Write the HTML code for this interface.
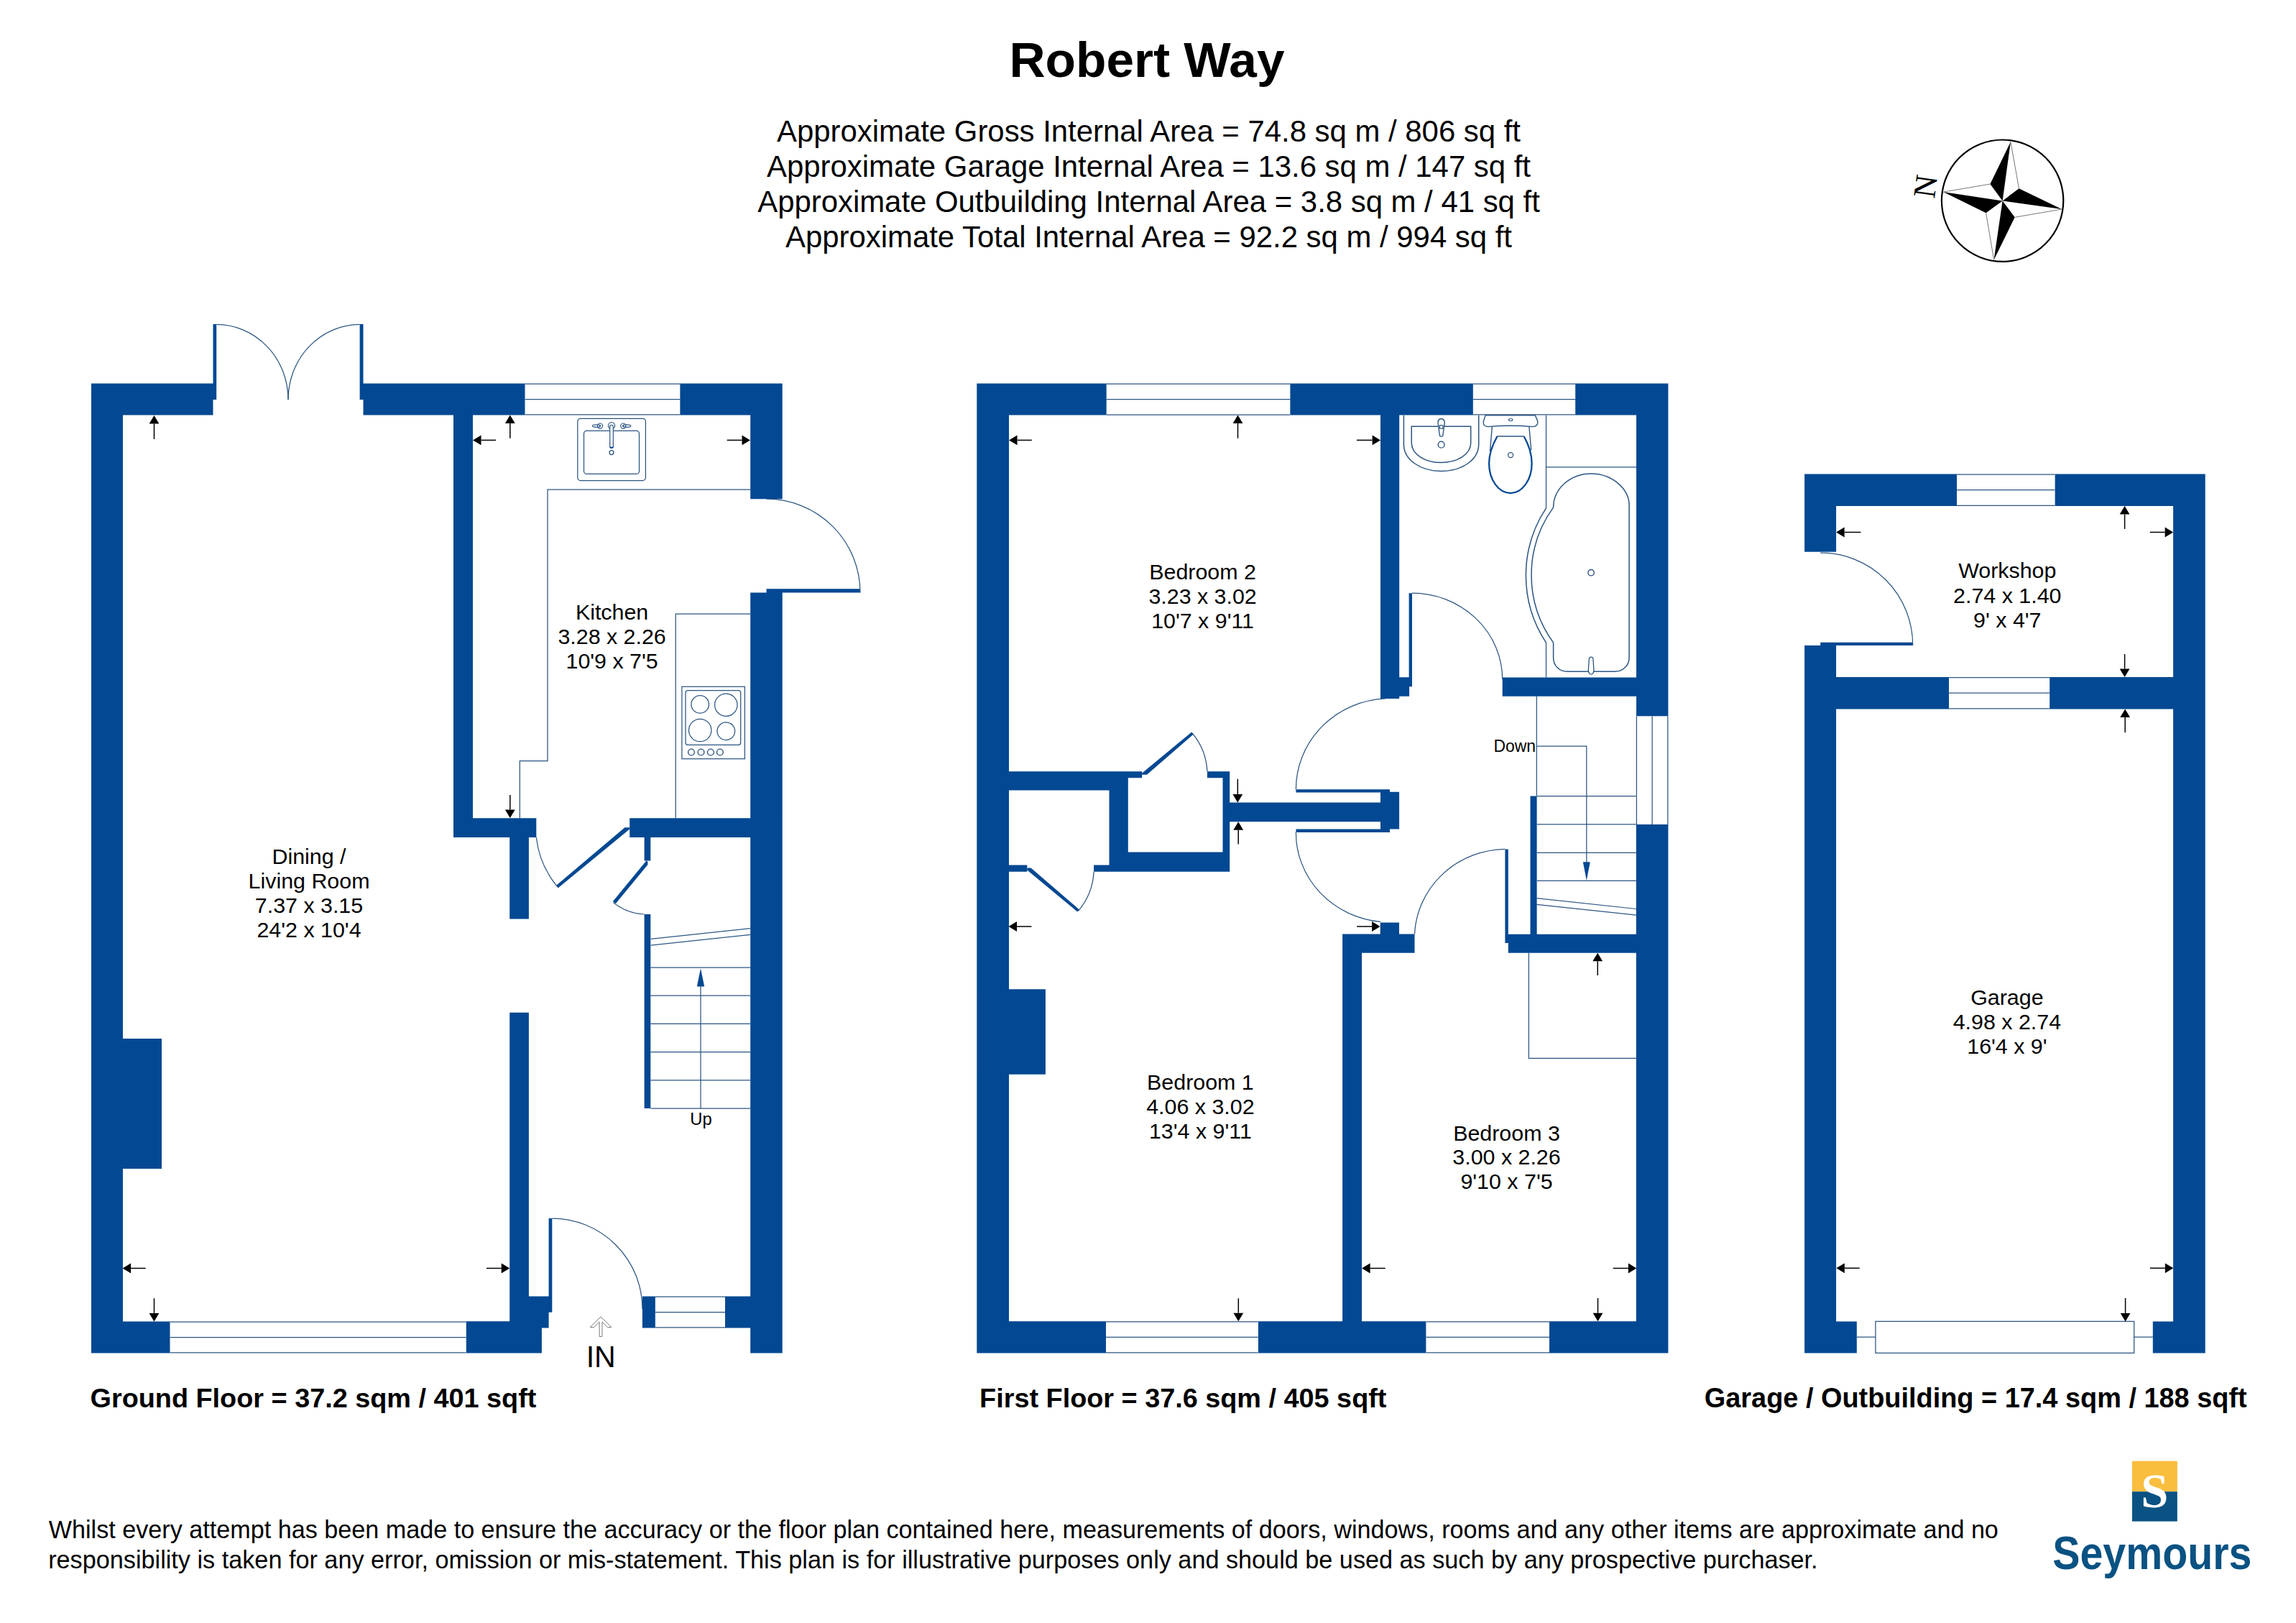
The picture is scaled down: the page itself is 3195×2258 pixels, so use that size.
<!DOCTYPE html>
<html><head><meta charset="utf-8"><title>Robert Way</title>
<style>
html,body{margin:0;padding:0;background:#fff;}
body{width:3195px;height:2258px;overflow:hidden;}
svg{display:block;font-family:"Liberation Sans",sans-serif;}
</style></head><body>
<svg width="3195" height="2258" viewBox="0 0 3195 2258">
<rect width="3195" height="2258" fill="#fff"/>
<text x="1596.0" y="106.5" font-size="69.4" text-anchor="middle" font-weight="bold" fill="#000" >Robert Way</text>
<text x="1598.5" y="197.1" font-size="41.9" text-anchor="middle" font-weight="normal" fill="#000" >Approximate Gross Internal Area = 74.8 sq m / 806 sq ft</text>
<text x="1598.5" y="245.7" font-size="41.9" text-anchor="middle" font-weight="normal" fill="#000" >Approximate Garage Internal Area = 13.6 sq m / 147 sq ft</text>
<text x="1598.5" y="295.3" font-size="41.9" text-anchor="middle" font-weight="normal" fill="#000" >Approximate Outbuilding Internal Area = 3.8 sq m / 41 sq ft</text>
<text x="1598.5" y="344.0" font-size="41.9" text-anchor="middle" font-weight="normal" fill="#000" >Approximate Total Internal Area = 92.2 sq m / 994 sq ft</text>
<path d="M127.0,533.5H171.0V1882.5H127.0ZM127.0,533.5H296.5V577.5H127.0ZM296.5,451.0H301.2V556.0H296.5ZM500.6,451.0H505.5V556.0H500.6ZM505.5,533.5H730.7V577.5H505.5ZM946.2,533.5H1088.7V577.5H946.2ZM1044.2,533.5H1088.7V694.2H1044.2ZM1044.2,824.5H1088.7V1882.5H1044.2ZM1066.5,819.3H1197.0V824.5H1066.5ZM631.0,577.5H658.0V1165.0H631.0ZM631.0,1138.2H746.3V1165.0H631.0ZM876.2,1138.2H1044.2V1165.0H876.2ZM709.2,1165.0H735.9V1278.6H709.2ZM709.2,1408.7H735.9V1838.3H709.2ZM648.5,1838.3H753.9V1882.5H648.5ZM735.9,1803.6H768.3V1825.8H735.9ZM735.9,1825.8H763.6V1847.4H735.9ZM763.6,1695.0H768.3V1825.8H763.6ZM893.9,1803.6H911.9V1847.4H893.9ZM1009.0,1803.6H1044.5V1847.4H1009.0ZM127.0,1838.4H236.7V1882.5H127.0ZM127.0,1445.0H225.0V1626.0H127.0ZM896.6,1165.0H905.3V1197.6H896.6ZM896.6,1272.0H905.3V1542.0H896.6Z" fill="#034892"/>
<rect x="730.7" y="533.5" width="215.5" height="44.0" fill="#fff"/>
<line x1="730.7" y1="534.1" x2="946.2" y2="534.1" stroke="#2c5582" stroke-width="1.25"/>
<line x1="730.7" y1="555.5" x2="946.2" y2="555.5" stroke="#2c5582" stroke-width="1.25"/>
<line x1="730.7" y1="576.9" x2="946.2" y2="576.9" stroke="#2c5582" stroke-width="1.25"/>
<rect x="236.7" y="1838.4" width="411.8" height="44.1" fill="#fff"/>
<line x1="236.7" y1="1839.0" x2="648.5" y2="1839.0" stroke="#2c5582" stroke-width="1.25"/>
<line x1="236.7" y1="1860.5" x2="648.5" y2="1860.5" stroke="#2c5582" stroke-width="1.25"/>
<line x1="236.7" y1="1881.9" x2="648.5" y2="1881.9" stroke="#2c5582" stroke-width="1.25"/>
<rect x="911.9" y="1803.6" width="97.1" height="43.8" fill="#fff"/>
<line x1="911.9" y1="1804.2" x2="1009.0" y2="1804.2" stroke="#2c5582" stroke-width="1.25"/>
<line x1="911.9" y1="1825.5" x2="1009.0" y2="1825.5" stroke="#2c5582" stroke-width="1.25"/>
<line x1="911.9" y1="1846.8" x2="1009.0" y2="1846.8" stroke="#2c5582" stroke-width="1.25"/>
<path d="M869.4,1151.3 L876.2,1151.3 L876.2,1153.6 L776.5,1235.4 L774.2,1231.7 Z" fill="#034892"/>
<path d="M899.4,1197.4 L901.4,1198.8 L901.4,1203 L856.9,1257.1 L852.7,1254.3 Z" fill="#034892"/>
<path d="M301.2,451.4 A100.0,104.5 0 0 1 401.0,556.0" fill="none" stroke="#2c5582" stroke-width="1.25"/>
<path d="M500.6,451.4 A100.0,104.5 0 0 0 401.0,556.0" fill="none" stroke="#2c5582" stroke-width="1.25"/>
<path d="M1066.5,694.2 A130.5,130.3 0 0 1 1197.0,824.5" fill="none" stroke="#2c5582" stroke-width="1.25"/>
<path d="M746.3,1165.0 A130.0,130.0 0 0 0 775.6,1233.6" fill="none" stroke="#2c5582" stroke-width="1.25"/>
<path d="M853.5,1255.8 A75.0,75.0 0 0 0 896.6,1272.0" fill="none" stroke="#2c5582" stroke-width="1.25"/>
<path d="M768.3,1695.0 A126.0,126.6 0 0 1 894.0,1821.6" fill="none" stroke="#2c5582" stroke-width="1.25"/>
<path d="M1044.2,681.1 L762.0,681.1 L762.0,1058.5 L723.3,1058.5 L723.3,1138.2" fill="none" stroke="#2c5582" stroke-width="1.25"/>
<path d="M1044.2,854.0 L940.2,854.0 L940.2,1138.2" fill="none" stroke="#2c5582" stroke-width="1.25"/>
<rect x="803.8" y="582.3" width="94.6" height="86.3" rx="4" fill="none" stroke="#2c5582" stroke-width="1.25"/>
<rect x="812.5" y="599.3" width="77" height="60.1" rx="4" fill="none" stroke="#2c5582" stroke-width="1.25"/>
<ellipse cx="830" cy="592.6" rx="5.6" ry="1.7" fill="none" stroke="#2c5582" stroke-width="1.2"/>
<ellipse cx="872.2" cy="592.6" rx="5.6" ry="1.7" fill="none" stroke="#2c5582" stroke-width="1.2"/>
<circle cx="835" cy="592.6" r="3.6" fill="none" stroke="#2c5582" stroke-width="1.2"/>
<circle cx="867.3" cy="592.6" r="3.6" fill="none" stroke="#2c5582" stroke-width="1.2"/>
<circle cx="835" cy="592.6" r="1" fill="#2c5582"/>
<circle cx="867.3" cy="592.6" r="1" fill="#2c5582"/>
<circle cx="851" cy="592.2" r="4.6" fill="#fff" stroke="#2c5582" stroke-width="1.2"/>
<path d="M848.7,621 L848.7,593.5 C848.7,590.5 853.3,590.5 853.3,593.5 L853.3,621 C853.3,624.2 848.7,624.2 848.7,621 Z" fill="#fff" stroke="#2c5582" stroke-width="1.2"/>
<path d="M848.9,621.5 C849.5,623.5 852.5,623.5 853.1,621.5" fill="none" stroke="#034892" stroke-width="1.8"/>
<circle cx="851" cy="629.5" r="3" fill="none" stroke="#2c5582" stroke-width="1.25"/>
<rect x="948.9" y="955.3" width="87.5" height="100.4" fill="none" stroke="#2c5582" stroke-width="1.25"/>
<rect x="954" y="960.5" width="76.7" height="75.8" rx="3" fill="none" stroke="#2c5582" stroke-width="1.25"/>
<circle cx="974.2" cy="979.9" r="12.3" fill="none" stroke="#2c5582" stroke-width="1.25"/>
<circle cx="1010.3" cy="980.7" r="15.7" fill="none" stroke="#2c5582" stroke-width="1.25"/>
<circle cx="974.2" cy="1016" r="15.7" fill="none" stroke="#2c5582" stroke-width="1.25"/>
<circle cx="1010.3" cy="1017.2" r="12.3" fill="none" stroke="#2c5582" stroke-width="1.25"/>
<circle cx="962" cy="1046.5" r="4.4" fill="none" stroke="#2c5582" stroke-width="1.4"/>
<circle cx="975.5" cy="1046.5" r="4.4" fill="none" stroke="#2c5582" stroke-width="1.4"/>
<circle cx="988.9" cy="1046.5" r="4.4" fill="none" stroke="#2c5582" stroke-width="1.4"/>
<circle cx="1001.9" cy="1046.5" r="4.4" fill="none" stroke="#2c5582" stroke-width="1.4"/>
<line x1="905.7" y1="1306.3" x2="1044.2" y2="1291.6" stroke="#2c5582" stroke-width="1.25"/>
<line x1="905.7" y1="1315.2" x2="1044.2" y2="1300.4" stroke="#2c5582" stroke-width="1.25"/>
<line x1="905.3" y1="1346.0" x2="1044.2" y2="1346.0" stroke="#2c5582" stroke-width="1.25"/>
<line x1="905.3" y1="1385.2" x2="1044.2" y2="1385.2" stroke="#2c5582" stroke-width="1.25"/>
<line x1="905.3" y1="1424.4" x2="1044.2" y2="1424.4" stroke="#2c5582" stroke-width="1.25"/>
<line x1="905.3" y1="1463.6" x2="1044.2" y2="1463.6" stroke="#2c5582" stroke-width="1.25"/>
<line x1="905.3" y1="1502.8" x2="1044.2" y2="1502.8" stroke="#2c5582" stroke-width="1.25"/>
<line x1="905.3" y1="1542.0" x2="1044.2" y2="1542.0" stroke="#2c5582" stroke-width="1.25"/>
<line x1="975.0" y1="1542.0" x2="975.0" y2="1370.0" stroke="#2c5582" stroke-width="1.25"/>
<path d="M975,1347.3 L969.8,1372.6 L980.2,1372.6 Z" fill="#034892"/>
<text x="975.5" y="1564.8" font-size="23.8" text-anchor="middle" font-weight="normal" fill="#000" >Up</text>
<line x1="214.5" y1="611.0" x2="214.5" y2="589.5" stroke="#000" stroke-width="1.5"/>
<path d="M214.5,578.0 L221.4,589.5 L207.6,589.5 Z" fill="#000"/>
<line x1="690.0" y1="612.4" x2="669.5" y2="612.4" stroke="#000" stroke-width="1.5"/>
<path d="M658.0,612.4 L669.5,605.5 L669.5,619.3 Z" fill="#000"/>
<line x1="709.8" y1="609.8" x2="709.8" y2="589.1" stroke="#000" stroke-width="1.5"/>
<path d="M709.8,577.6 L716.7,589.1 L702.9,589.1 Z" fill="#000"/>
<line x1="1011.6" y1="612.4" x2="1032.5" y2="612.4" stroke="#000" stroke-width="1.5"/>
<path d="M1044.0,612.4 L1032.5,619.3 L1032.5,605.5 Z" fill="#000"/>
<line x1="709.8" y1="1106.0" x2="709.8" y2="1126.5" stroke="#000" stroke-width="1.5"/>
<path d="M709.8,1138.0 L702.9,1126.5 L716.7,1126.5 Z" fill="#000"/>
<line x1="202.7" y1="1764.5" x2="182.1" y2="1764.5" stroke="#000" stroke-width="1.5"/>
<path d="M170.6,1764.5 L182.1,1757.6 L182.1,1771.4 Z" fill="#000"/>
<line x1="214.5" y1="1806.3" x2="214.5" y2="1826.9" stroke="#000" stroke-width="1.5"/>
<path d="M214.5,1838.4 L207.6,1826.9 L221.4,1826.9 Z" fill="#000"/>
<line x1="677.0" y1="1764.5" x2="697.7" y2="1764.5" stroke="#000" stroke-width="1.5"/>
<path d="M709.2,1764.5 L697.7,1771.4 L697.7,1757.6 Z" fill="#000"/>
<text x="430.0" y="1202.4" font-size="30.4" text-anchor="middle" font-weight="normal" fill="#000" >Dining /</text>
<text x="430.0" y="1236.4" font-size="30.4" text-anchor="middle" font-weight="normal" fill="#000" >Living Room</text>
<text x="430.0" y="1270.4" font-size="30.4" text-anchor="middle" font-weight="normal" fill="#000" >7.37 x 3.15</text>
<text x="430.0" y="1304.4" font-size="30.4" text-anchor="middle" font-weight="normal" fill="#000" >24'2 x 10'4</text>
<text x="851.6" y="862.0" font-size="30.4" text-anchor="middle" font-weight="normal" fill="#000" >Kitchen</text>
<text x="851.6" y="895.7" font-size="30.4" text-anchor="middle" font-weight="normal" fill="#000" >3.28 x 2.26</text>
<text x="851.6" y="929.7" font-size="30.4" text-anchor="middle" font-weight="normal" fill="#000" >10'9 x 7'5</text>
<path d="M836,1832 L850.8,1846.5 L845.3,1846.5 L837.9,1839.1 L837.9,1859.5 L834.1,1859.5 L834.1,1839.1 L826.6,1846.5 L821.1,1846.5 Z" fill="#fff" stroke="#7a7a7a" stroke-width="1"/>
<text x="836.2" y="1901.8" font-size="43" text-anchor="middle" textLength="41.1" lengthAdjust="spacingAndGlyphs">IN</text>
<text x="125.5" y="1957.6" font-size="37.82" text-anchor="start" font-weight="bold" fill="#000" >Ground Floor = 37.2 sqm / 401 sqft</text>
<path d="M1359.3,533.4H1404.0V1882.5H1359.3ZM1359.3,533.4H1539.8V577.6H1359.3ZM1795.2,533.4H2049.9V577.5H1795.2ZM2192.1,533.4H2321.4V577.5H2192.1ZM2277.0,533.4H2321.4V996.6H2277.0ZM2276.8,1146.9H2321.4V1882.5H2276.8ZM1921.0,577.5H1947.2V971.9H1921.0ZM2090.7,942.4H2277.0V968.7H2090.7ZM1947.1,942.3H1961.1V968.7H1947.1ZM1960.6,825.2H1965.0V955.3H1960.6ZM1403.5,1073.3H1543.5V1099.6H1403.5ZM1543.5,1073.3H1589.2V1082.2H1543.5ZM1543.5,1073.3H1569.8V1212.8H1543.5ZM1543.5,1185.6H1711.2V1212.8H1543.5ZM1701.5,1073.3H1711.2V1212.8H1701.5ZM1679.9,1073.3H1711.2V1082.2H1679.9ZM1403.5,1203.6H1429.3V1212.8H1403.5ZM1522.1,1203.6H1543.5V1212.8H1522.1ZM1711.2,1116.6H1921.0V1143.2H1711.2ZM1921.0,1101.8H1947.1V1153.5H1921.0ZM1921.0,1098.3H1934.0V1158.0H1921.0ZM1404.0,1376.3H1454.9V1494.7H1404.0ZM1868.1,1299.4H1895.1V1882.5H1868.1ZM1868.1,1299.4H1968.5V1325.8H1868.1ZM1920.7,1283.4H1947.0V1299.4H1920.7ZM2098.8,1299.7H2321.4V1325.8H2098.8ZM2094.4,1181.4H2098.8V1312.0H2094.4ZM2129.5,1107.5H2138.6V1299.7H2129.5ZM1359.3,1838.2H1539.0V1882.5H1359.3ZM1750.7,1838.2H1984.6V1882.5H1750.7ZM2156.0,1838.3H2321.4V1882.5H2156.0ZM1803.4,1098.3H1934.0V1102.5H1803.4ZM1803.4,1153.5H1934.0V1158.0H1803.4Z" fill="#034892"/>
<rect x="1539.8" y="533.4" width="255.4" height="44.2" fill="#fff"/>
<line x1="1539.8" y1="534.0" x2="1795.2" y2="534.0" stroke="#2c5582" stroke-width="1.25"/>
<line x1="1539.8" y1="555.5" x2="1795.2" y2="555.5" stroke="#2c5582" stroke-width="1.25"/>
<line x1="1539.8" y1="577.0" x2="1795.2" y2="577.0" stroke="#2c5582" stroke-width="1.25"/>
<rect x="2049.9" y="533.4" width="142.2" height="44.1" fill="#fff"/>
<line x1="2049.9" y1="534.0" x2="2192.1" y2="534.0" stroke="#2c5582" stroke-width="1.25"/>
<line x1="2049.9" y1="555.5" x2="2192.1" y2="555.5" stroke="#2c5582" stroke-width="1.25"/>
<line x1="2049.9" y1="576.9" x2="2192.1" y2="576.9" stroke="#2c5582" stroke-width="1.25"/>
<rect x="2276.8" y="996.6" width="44.6" height="150.3" fill="#fff"/>
<line x1="2277.4" y1="996.6" x2="2277.4" y2="1146.9" stroke="#2c5582" stroke-width="1.25"/>
<line x1="2299.1" y1="996.6" x2="2299.1" y2="1146.9" stroke="#2c5582" stroke-width="1.25"/>
<line x1="2320.8" y1="996.6" x2="2320.8" y2="1146.9" stroke="#2c5582" stroke-width="1.25"/>
<rect x="1539.0" y="1838.2" width="211.7" height="44.3" fill="#fff"/>
<line x1="1539.0" y1="1838.8" x2="1750.7" y2="1838.8" stroke="#2c5582" stroke-width="1.25"/>
<line x1="1539.0" y1="1860.3" x2="1750.7" y2="1860.3" stroke="#2c5582" stroke-width="1.25"/>
<line x1="1539.0" y1="1881.9" x2="1750.7" y2="1881.9" stroke="#2c5582" stroke-width="1.25"/>
<rect x="1984.6" y="1838.3" width="171.4" height="44.2" fill="#fff"/>
<line x1="1984.6" y1="1838.9" x2="2156.0" y2="1838.9" stroke="#2c5582" stroke-width="1.25"/>
<line x1="1984.6" y1="1860.4" x2="2156.0" y2="1860.4" stroke="#2c5582" stroke-width="1.25"/>
<line x1="1984.6" y1="1881.9" x2="2156.0" y2="1881.9" stroke="#2c5582" stroke-width="1.25"/>
<path d="M1589,1075.8 L1658.3,1018.6 L1660.8,1021.5 L1596,1077.7 L1589,1077.7 Z" fill="#034892"/>
<path d="M1429.3,1207.4 L1434.6,1207.4 L1501.9,1265.4 L1499.3,1268.6 L1429.3,1210.6 Z" fill="#034892"/>
<path d="M1965.0,825.2 A126.0,120.0 0 0 1 2090.7,945.0" fill="none" stroke="#2c5582" stroke-width="1.25"/>
<path d="M1803.4,1098.3 A130.6,126.4 0 0 1 1928.0,971.9" fill="none" stroke="#2c5582" stroke-width="1.25"/>
<path d="M1803.4,1158.0 A130.6,124.4 0 0 0 1921.0,1282.4" fill="none" stroke="#2c5582" stroke-width="1.25"/>
<path d="M1660.0,1021.2 A89.0,89.0 0 0 1 1679.9,1073.3" fill="none" stroke="#2c5582" stroke-width="1.25"/>
<path d="M1500.5,1267.4 A91.0,91.0 0 0 0 1522.1,1212.8" fill="none" stroke="#2c5582" stroke-width="1.25"/>
<path d="M1968.5,1299.7 A128.0,124.0 0 0 1 2094.4,1181.4" fill="none" stroke="#2c5582" stroke-width="1.25"/>
<line x1="2138.3" y1="968.7" x2="2138.3" y2="1107.5" stroke="#2c5582" stroke-width="1.25"/>
<line x1="2138.6" y1="1107.5" x2="2276.8" y2="1107.5" stroke="#2c5582" stroke-width="1.25"/>
<line x1="2138.6" y1="1146.9" x2="2276.8" y2="1146.9" stroke="#2c5582" stroke-width="1.25"/>
<line x1="2138.6" y1="1186.4" x2="2276.8" y2="1186.4" stroke="#2c5582" stroke-width="1.25"/>
<line x1="2138.6" y1="1225.3" x2="2276.8" y2="1225.3" stroke="#2c5582" stroke-width="1.25"/>
<line x1="2138.3" y1="1249.7" x2="2276.8" y2="1264.5" stroke="#2c5582" stroke-width="1.25"/>
<line x1="2138.3" y1="1258.3" x2="2276.8" y2="1273.1" stroke="#2c5582" stroke-width="1.25"/>
<path d="M2138.3,1038.0 L2207.8,1038.0 L2207.8,1200.0" fill="none" stroke="#2c5582" stroke-width="1.25"/>
<path d="M2207.8,1225 L2202.8,1199.2 L2212.7,1199.2 Z" fill="#034892"/>
<text x="2137.0" y="1045.6" font-size="24" text-anchor="end" font-weight="normal" fill="#000" textLength="58.6" lengthAdjust="spacingAndGlyphs">Down</text>
<path d="M1953.4,577.7 L1953.4,618 C1953.4,640 1977,655.5 2005.5,655.5 C2034,655.5 2057.7,640 2057.7,618 L2057.7,577.7" fill="none" stroke="#2c5582" stroke-width="1.5"/>
<path d="M1964.2,593.3 L2046.7,593.3 L2046.7,616 C2046.7,632 2028,643.6 2005.5,643.6 C1983,643.6 1964.2,632 1964.2,616 Z" fill="none" stroke="#2c5582" stroke-width="1.5"/>
<path d="M2005.6,582.8 C2009.5,582.8 2010.2,585.5 2010.2,588 L2007.8,606 C2007.5,607.5 2003.7,607.5 2003.4,606 L2001,588 C2001,585.5 2001.7,582.8 2005.6,582.8 Z" fill="#fff" stroke="#2c5582" stroke-width="1.4"/>
<rect x="2003.4" y="591.8" width="4.4" height="4.4" fill="none" stroke="#2c5582" stroke-width="1.2"/>
<circle cx="2005.6" cy="618.7" r="4.4" fill="none" stroke="#2c5582" stroke-width="1.4"/>
<path d="M2067.1,577.7 L2136.2,577.7 C2138,582 2140,585 2139.8,588 C2139.5,592 2136,593.5 2133,593.6 C2115,592 2090,592 2070,593.6 C2067,593.5 2064.2,591.5 2064.2,588 C2064.2,585 2066,582 2067.1,577.7 Z" fill="#fff" stroke="#2c5582" stroke-width="1.4"/>
<ellipse cx="2102.1" cy="584" rx="2.8" ry="1.5" fill="none" stroke="#2c5582" stroke-width="1.2"/>
<path d="M2076.3,593.8 L2073.5,628 M2127.9,593.8 L2130.7,626.2" fill="none" stroke="#2c5582" stroke-width="1.4"/>
<path d="M2120.6,607 C2128,620 2131.6,632 2131.6,645 C2131.6,668 2118,686.1 2101.9,686.1 C2085.8,686.1 2072.1,668 2072.1,645 C2072.1,632 2076,620 2083.6,607" fill="none" stroke="#034892" stroke-width="2.3"/>
<line x1="2083.6" y1="607.0" x2="2120.6" y2="607.0" stroke="#2c5582" stroke-width="1.6"/>
<circle cx="2102.1" cy="633.1" r="3.5" fill="none" stroke="#2c5582" stroke-width="1.3"/>
<path d="M2161.6,705.9 C2161.6,680 2185,659.1 2214.3,659.1 C2243,659.1 2267.1,680 2267.1,703 L2267.1,915.2 C2267.1,926 2258,934.3 2247.6,934.3 L2180.7,934.3 C2170,934.3 2161.6,926 2161.6,915.2 L2161.6,894.1" fill="none" stroke="#2c5582" stroke-width="1.5"/>
<path d="M2151.5,706.9 A170,170 0 0 0 2151.5,894.1" fill="none" stroke="#2c5582" stroke-width="1.5"/>
<path d="M2161.6,705.9 A160,160 0 0 0 2161.6,894.1" fill="none" stroke="#2c5582" stroke-width="1.5"/>
<circle cx="2214.1" cy="796.7" r="4.2" fill="none" stroke="#2c5582" stroke-width="1.4"/>
<path d="M2214.1,914.2 C2216.5,914.2 2217,916 2217,918 L2217.9,932 C2218,936 2216,938.1 2214.1,938.1 C2212.2,938.1 2210.2,936 2210.3,932 L2211.2,918 C2211.2,916 2211.7,914.2 2214.1,914.2 Z" fill="#fff" stroke="#2c5582" stroke-width="1.3"/>
<line x1="2151.5" y1="577.5" x2="2151.5" y2="706.9" stroke="#2c5582" stroke-width="1.25"/>
<line x1="2151.5" y1="894.1" x2="2151.5" y2="942.6" stroke="#2c5582" stroke-width="1.25"/>
<line x1="2151.3" y1="649.9" x2="2277.0" y2="649.9" stroke="#2c5582" stroke-width="1.25"/>
<path d="M2127.4,1325.8 L2127.4,1472.3 L2277.0,1472.3" fill="none" stroke="#2c5582" stroke-width="1.25"/>
<line x1="1435.8" y1="612.4" x2="1415.5" y2="612.4" stroke="#000" stroke-width="1.5"/>
<path d="M1404.0,612.4 L1415.5,605.5 L1415.5,619.3 Z" fill="#000"/>
<line x1="1722.5" y1="609.8" x2="1722.5" y2="589.1" stroke="#000" stroke-width="1.5"/>
<path d="M1722.5,577.6 L1729.4,589.1 L1715.6,589.1 Z" fill="#000"/>
<line x1="1887.9" y1="612.4" x2="1909.6" y2="612.4" stroke="#000" stroke-width="1.5"/>
<path d="M1921.1,612.4 L1909.6,619.3 L1909.6,605.5 Z" fill="#000"/>
<line x1="1722.3" y1="1083.8" x2="1722.3" y2="1105.1" stroke="#000" stroke-width="1.5"/>
<path d="M1722.3,1116.6 L1715.4,1105.1 L1729.2,1105.1 Z" fill="#000"/>
<line x1="1723.2" y1="1174.5" x2="1723.2" y2="1154.7" stroke="#000" stroke-width="1.5"/>
<path d="M1723.2,1143.2 L1730.1,1154.7 L1716.3,1154.7 Z" fill="#000"/>
<line x1="1435.4" y1="1289.0" x2="1415.0" y2="1289.0" stroke="#000" stroke-width="1.5"/>
<path d="M1403.5,1289.0 L1415.0,1282.1 L1415.0,1295.9 Z" fill="#000"/>
<line x1="1888.1" y1="1289.0" x2="1909.1" y2="1289.0" stroke="#000" stroke-width="1.5"/>
<path d="M1920.6,1289.0 L1909.1,1295.9 L1909.1,1282.1 Z" fill="#000"/>
<line x1="1723.3" y1="1806.3" x2="1723.3" y2="1826.7" stroke="#000" stroke-width="1.5"/>
<path d="M1723.3,1838.2 L1716.4,1826.7 L1730.2,1826.7 Z" fill="#000"/>
<line x1="1927.7" y1="1764.5" x2="1906.6" y2="1764.5" stroke="#000" stroke-width="1.5"/>
<path d="M1895.1,1764.5 L1906.6,1757.6 L1906.6,1771.4 Z" fill="#000"/>
<line x1="2244.6" y1="1764.5" x2="2265.8" y2="1764.5" stroke="#000" stroke-width="1.5"/>
<path d="M2277.3,1764.5 L2265.8,1771.4 L2265.8,1757.6 Z" fill="#000"/>
<line x1="2223.5" y1="1806.0" x2="2223.5" y2="1826.8" stroke="#000" stroke-width="1.5"/>
<path d="M2223.5,1838.3 L2216.6,1826.8 L2230.4,1826.8 Z" fill="#000"/>
<line x1="2223.2" y1="1357.1" x2="2223.2" y2="1337.3" stroke="#000" stroke-width="1.5"/>
<path d="M2223.2,1325.8 L2230.1,1337.3 L2216.3,1337.3 Z" fill="#000"/>
<text x="1673.6" y="805.7" font-size="30.4" text-anchor="middle" font-weight="normal" fill="#000" >Bedroom 2</text>
<text x="1673.6" y="839.7" font-size="30.4" text-anchor="middle" font-weight="normal" fill="#000" >3.23 x 3.02</text>
<text x="1673.6" y="873.7" font-size="30.4" text-anchor="middle" font-weight="normal" fill="#000" >10'7 x 9'11</text>
<text x="1670.4" y="1515.6" font-size="30.4" text-anchor="middle" font-weight="normal" fill="#000" >Bedroom 1</text>
<text x="1670.4" y="1549.6" font-size="30.4" text-anchor="middle" font-weight="normal" fill="#000" >4.06 x 3.02</text>
<text x="1670.4" y="1583.5" font-size="30.4" text-anchor="middle" font-weight="normal" fill="#000" >13'4 x 9'11</text>
<text x="2096.5" y="1586.7" font-size="30.4" text-anchor="middle" font-weight="normal" fill="#000" >Bedroom 3</text>
<text x="2096.5" y="1620.3" font-size="30.4" text-anchor="middle" font-weight="normal" fill="#000" >3.00 x 2.26</text>
<text x="2096.5" y="1654.0" font-size="30.4" text-anchor="middle" font-weight="normal" fill="#000" >9'10 x 7'5</text>
<text x="1363.1" y="1958.2" font-size="37.82" text-anchor="start" font-weight="bold" fill="#000" >First Floor = 37.6 sqm / 405 sqft</text>
<path d="M2511.1,659.4H2555.1V767.7H2511.1ZM2511.1,659.4H2723.0V704.0H2511.1ZM2859.4,659.4H3068.7V704.0H2859.4ZM3024.1,659.4H3068.7V1882.5H3024.1ZM2511.1,897.9H2555.1V1882.5H2511.1ZM2533.2,893.8H2661.7V897.9H2533.2ZM2555.1,941.9H2712.2V986.5H2555.1ZM2852.1,941.9H3024.1V986.5H2852.1ZM2511.3,1838.4H2583.8V1882.5H2511.3ZM2995.8,1838.4H3068.7V1882.5H2995.8Z" fill="#034892"/>
<rect x="2723.0" y="659.4" width="136.4" height="44.6" fill="#fff"/>
<line x1="2723.0" y1="660.0" x2="2859.4" y2="660.0" stroke="#2c5582" stroke-width="1.25"/>
<line x1="2723.0" y1="681.7" x2="2859.4" y2="681.7" stroke="#2c5582" stroke-width="1.25"/>
<line x1="2723.0" y1="703.4" x2="2859.4" y2="703.4" stroke="#2c5582" stroke-width="1.25"/>
<rect x="2712.2" y="941.9" width="139.9" height="44.6" fill="#fff"/>
<line x1="2712.2" y1="942.5" x2="2852.1" y2="942.5" stroke="#2c5582" stroke-width="1.25"/>
<line x1="2712.2" y1="964.2" x2="2852.1" y2="964.2" stroke="#2c5582" stroke-width="1.25"/>
<line x1="2712.2" y1="985.9" x2="2852.1" y2="985.9" stroke="#2c5582" stroke-width="1.25"/>
<rect x="2609.9" y="1838.4" width="359.8" height="44" fill="#fff" stroke="#2c5582" stroke-width="1.25"/>
<line x1="2583.8" y1="1860.2" x2="2609.9" y2="1860.2" stroke="#2c5582" stroke-width="1.25"/>
<line x1="2969.7" y1="1860.2" x2="2995.8" y2="1860.2" stroke="#2c5582" stroke-width="1.25"/>
<path d="M2533.2,769.0 A128.5,128.5 0 0 1 2661.7,897.9" fill="none" stroke="#2c5582" stroke-width="1.25"/>
<line x1="2589.4" y1="740.5" x2="2566.6" y2="740.5" stroke="#000" stroke-width="1.5"/>
<path d="M2555.1,740.5 L2566.6,733.6 L2566.6,747.4 Z" fill="#000"/>
<line x1="2956.6" y1="735.9" x2="2956.6" y2="715.5" stroke="#000" stroke-width="1.5"/>
<path d="M2956.6,704.0 L2963.5,715.5 L2949.7,715.5 Z" fill="#000"/>
<line x1="2991.7" y1="740.5" x2="3012.6" y2="740.5" stroke="#000" stroke-width="1.5"/>
<path d="M3024.1,740.5 L3012.6,747.4 L3012.6,733.6 Z" fill="#000"/>
<line x1="2956.6" y1="910.0" x2="2956.6" y2="930.4" stroke="#000" stroke-width="1.5"/>
<path d="M2956.6,941.9 L2949.7,930.4 L2963.5,930.4 Z" fill="#000"/>
<line x1="2957.2" y1="1018.9" x2="2957.2" y2="998.0" stroke="#000" stroke-width="1.5"/>
<path d="M2957.2,986.5 L2964.1,998.0 L2950.3,998.0 Z" fill="#000"/>
<line x1="2587.7" y1="1764.3" x2="2566.8" y2="1764.3" stroke="#000" stroke-width="1.5"/>
<path d="M2555.3,1764.3 L2566.8,1757.4 L2566.8,1771.2 Z" fill="#000"/>
<line x1="2991.9" y1="1764.3" x2="3012.8" y2="1764.3" stroke="#000" stroke-width="1.5"/>
<path d="M3024.3,1764.3 L3012.8,1771.2 L3012.8,1757.4 Z" fill="#000"/>
<line x1="2957.6" y1="1806.0" x2="2957.6" y2="1826.9" stroke="#000" stroke-width="1.5"/>
<path d="M2957.6,1838.4 L2950.7,1826.9 L2964.5,1826.9 Z" fill="#000"/>
<text x="2793.3" y="804.2" font-size="30.4" text-anchor="middle" font-weight="normal" fill="#000" >Workshop</text>
<text x="2793.3" y="839.0" font-size="30.4" text-anchor="middle" font-weight="normal" fill="#000" >2.74 x 1.40</text>
<text x="2793.3" y="872.8" font-size="30.4" text-anchor="middle" font-weight="normal" fill="#000" >9' x 4'7</text>
<text x="2792.9" y="1397.8" font-size="30.4" text-anchor="middle" font-weight="normal" fill="#000" >Garage</text>
<text x="2792.9" y="1431.6" font-size="30.4" text-anchor="middle" font-weight="normal" fill="#000" >4.98 x 2.74</text>
<text x="2792.9" y="1465.6" font-size="30.4" text-anchor="middle" font-weight="normal" fill="#000" >16'4 x 9'</text>
<text x="2371.8" y="1958.0" font-size="37.9" text-anchor="start" font-weight="bold" fill="#000" >Garage / Outbuilding = 17.4 sqm / 188 sqft</text>
<circle cx="2786.6" cy="279.2" r="84.7" fill="none" stroke="#000" stroke-width="2.2"/>
<path d="M2797.9,197.2 L2769.4,256.1 L2786.6,279.4 Z" fill="#000"/>
<path d="M2704.1,267.1 L2786.6,279.4 L2763.6,296.2 Z" fill="#000"/>
<path d="M2774.6,361.5 L2803.7,302.3 L2786.6,279.4 Z" fill="#000"/>
<path d="M2869.1,291 L2809.5,262.3 L2786.6,279.4 Z" fill="#000"/>
<line x1="2797.9" y1="197.2" x2="2809.5" y2="262.3" stroke="#555" stroke-width="0.8"/>
<line x1="2704.1" y1="267.1" x2="2769.4" y2="256.1" stroke="#555" stroke-width="0.8"/>
<line x1="2774.6" y1="361.5" x2="2763.6" y2="296.2" stroke="#555" stroke-width="0.8"/>
<line x1="2869.1" y1="291" x2="2803.7" y2="302.3" stroke="#555" stroke-width="0.8"/>
<text x="0" y="0" font-family="Liberation Serif" font-size="44" text-anchor="middle" fill="#000" transform="translate(2679.5,259.3) rotate(-82) translate(0,14.5)">N</text>
<rect x="2966.9" y="2032.7" width="62.9" height="42.5" fill="#f9be3e"/>
<rect x="2966.9" y="2075.2" width="62.9" height="41.4" fill="#0a5283"/>
<text x="2998.4" y="2097.3" font-family="Liberation Serif" font-weight="bold" font-size="68.5" text-anchor="middle" fill="#fff">S</text>
<text x="2856.3" y="2183.3" font-size="65.5" font-weight="bold" fill="#0a5283" textLength="277" lengthAdjust="spacingAndGlyphs">Seymours</text>
<text x="67.8" y="2140.4" font-size="34.17" text-anchor="start" font-weight="normal" fill="#000" >Whilst every attempt has been made to ensure the accuracy or the floor plan contained here, measurements of doors, windows, rooms and any other items are approximate and no</text>
<text x="67.2" y="2181.7" font-size="34.22" text-anchor="start" font-weight="normal" fill="#000" >responsibility is taken for any error, omission or mis-statement. This plan is for illustrative purposes only and should be used as such by any prospective purchaser.</text>
</svg>
</body></html>
